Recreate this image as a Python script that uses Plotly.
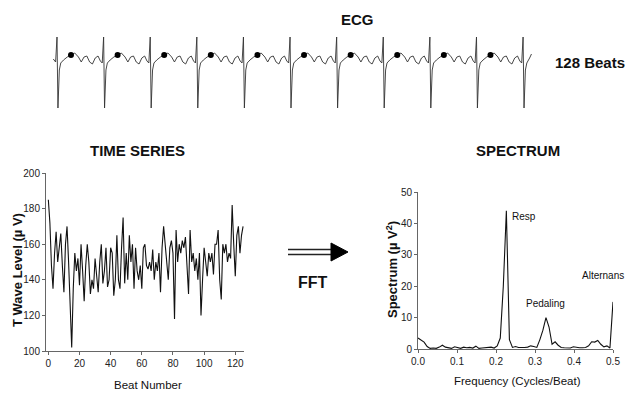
import plotly.graph_objects as go

W, H = 636, 397
OFF = 8  # page body margin: figure is drawn 8 px right/down in the window

# ---------------- data ----------------
t_wave_uv = [185, 172, 148, 135, 155, 167, 150, 160, 166, 148, 133, 160, 170, 150, 125, 102,
             135, 155, 145, 152, 137, 160, 145, 128, 148, 160, 150, 132, 140, 135, 152, 140,
             133, 150, 160, 138, 145, 158, 136, 140, 158, 155, 131, 140, 165, 140, 135, 158,
             175, 138, 155, 140, 165, 150, 160, 135, 158, 145, 140, 148, 135, 158, 160, 148,
             146, 150, 145, 157, 140, 150, 145, 155, 133, 158, 170, 160, 150, 140, 158, 162,
             155, 118, 168, 150, 160, 155, 162, 158, 164, 150, 132, 168, 150, 155, 145, 152,
             140, 155, 120, 140, 158, 150, 142, 155, 150, 155, 143, 160, 160, 168, 140, 129,
             160, 155, 160, 150, 155, 152, 182, 160, 142, 165, 170, 155, 165, 170]
beat_number = list(range(len(t_wave_uv)))

spectrum_uv2 = [3.5, 2.8, 2.2, 0.8, 0.2, 0.3, 0.2, 0.6, 1.2, 0.6, 0.3, 0.2, 0.7, 0.5, 0.2, 0.6,
                0.4, 0.5, 0.3, 0.9, 0.2, 0.3, 0.4, 0.3, 0.6, 0.3, 1.0, 3.5, 20.0, 44.0, 3.0, 0.5,
                0.8, 0.5, 0.4, 0.5, 0.6, 1.0, 0.8, 0.5, 3.0, 6.0, 10.0, 7.0, 1.5, 2.3, 1.2, 0.5,
                0.4, 0.4, 0.3, 0.7, 0.5, 0.4, 0.4, 0.5, 1.0, 2.3, 2.2, 2.7, 1.5, 0.7, 1.0, 0.3, 15.0]
frequency = [k / 128 for k in range(len(spectrum_uv2))]

ts_xticks = [0, 20, 40, 60, 80, 100, 120]
ts_yticks = [100, 120, 140, 160, 180, 200]
sp_xticks = [0.0, 0.1, 0.2, 0.3, 0.4, 0.5]
sp_xticktext = ["0.0", "0.1", "0.2", "0.3", "0.4", "0.5"]
sp_yticks = [0, 10, 20, 30, 40, 50]

# one ECG beat template (time in beats after R peak, amplitude in arbitrary units)
ecg_template_t = [0.00, 0.02, 0.05, 0.08, 0.14, 0.22, 0.30, 0.38, 0.46, 0.52, 0.58, 0.64,
                  0.70, 0.76, 0.82, 0.88, 0.93, 0.97]
ecg_template_v = [23, -48, -10, -3, 0, 3, 5, 7, 3, -2, 3, 4, -2, -4, 2, 4, -1, -3]
ecg_tail_t = [0.00, 0.02, 0.05, 0.08, 0.14, 0.18]
ecg_tail_v = [23, -48, -10, -3, 2, 6]
ecg_lead_t = [-0.08, -0.03]
ecg_lead_v = [1, -2]
ecg_beats = list(range(10))          # beats drawn in the strip (plus final R)
t_marker_offset = 0.30               # T-wave sample point within each beat
t_marker_value = 5

# ---------------- build ECG strip ----------------
ecg_x = list(ecg_lead_t)
ecg_y = list(ecg_lead_v)
for k in ecg_beats:
    ecg_x += [k + t for t in ecg_template_t]
    ecg_y += ecg_template_v
ecg_x += [len(ecg_beats) + t for t in ecg_tail_t]
ecg_y += ecg_tail_v
dot_x = [k + t_marker_offset for k in ecg_beats]
dot_y = [t_marker_value for _ in ecg_beats]

SANS = "Liberation Sans, Arial, sans-serif"

def px(x):
    return (x - OFF) / W

def py(y):
    return 1 - (y - OFF) / H

fig = go.Figure()

fig.add_trace(go.Scatter(x=beat_number, y=t_wave_uv, mode="lines",
                         line=dict(color="#111", width=1.1), xaxis="x", yaxis="y",
                         showlegend=False, hoverinfo="skip"))
fig.add_trace(go.Scatter(x=frequency, y=spectrum_uv2, mode="lines",
                         line=dict(color="#111", width=1.1), xaxis="x2", yaxis="y2",
                         showlegend=False, hoverinfo="skip", cliponaxis=False))
fig.add_trace(go.Scatter(x=ecg_x, y=ecg_y, mode="lines",
                         line=dict(color="#333", width=0.9), xaxis="x3", yaxis="y3",
                         showlegend=False, hoverinfo="skip"))
fig.add_trace(go.Scatter(x=dot_x, y=dot_y, mode="markers",
                         marker=dict(color="#000", size=6), xaxis="x3", yaxis="y3",
                         showlegend=False, hoverinfo="skip"))

axis_common = dict(showgrid=False, zeroline=False, showline=True, linecolor="#666",
                   linewidth=1, ticks="outside", ticklen=3, tickcolor="#666",
                   automargin=False,
                   tickfont=dict(family=SANS, size=10, color="#222"))

fig.update_layout(
    width=W, height=H, margin=dict(l=0, r=0, t=0, b=0, pad=0, autoexpand=False),
    paper_bgcolor="white", plot_bgcolor="white",
    xaxis=dict(domain=[px(46), px(244)], range=[-1.5, 125.6], anchor="y",
               tickvals=ts_xticks, **axis_common),
    yaxis=dict(domain=[py(351), py(173)], range=[100, 200], anchor="x",
               tickvals=ts_yticks, **axis_common),
    xaxis2=dict(domain=[px(418), px(613)], range=[0, 0.5], anchor="y2",
                tickvals=sp_xticks, ticktext=sp_xticktext, **axis_common),
    yaxis2=dict(domain=[py(349), py(192)], range=[0, 50], anchor="x2",
                tickvals=sp_yticks, **axis_common),
    xaxis3=dict(domain=[px(40), px(545)], range=[-0.365, 10.47], anchor="y3",
                visible=False, automargin=False),
    yaxis3=dict(domain=[py(112), py(30)], range=[-52, 30], anchor="x3", visible=False,
                automargin=False),
)

def label(text, x, y, size, bold=True, angle=0, color="#111"):
    fig.add_annotation(text=text, x=px(x), y=py(y), xref="paper", yref="paper",
                       showarrow=False, textangle=angle, xanchor="center", yanchor="middle",
                       font=dict(family=SANS, size=size, color=color,
                                 weight="bold" if bold else "normal"))

label("ECG", 357, 20, 15)
label("128 Beats", 590, 62, 15)
label("TIME SERIES", 137, 150, 15)
label("SPECTRUM", 518, 150, 15)
label("FFT", 313, 282, 16)
label("T Wave Level (\u00b5 V)", 17, 270, 13, angle=-90)
label("Spectrum (\u00b5 V<sup>2</sup>)", 392, 270, 13, angle=-90)
label("Beat Number", 148, 385, 11.5, bold=False)
label("Frequency (Cycles/Beat)", 517, 381, 11.5, bold=False)

# peak labels anchored to data
fig.add_annotation(text="Resp", x=frequency[29], y=spectrum_uv2[29], xref="x2", yref="y2",
                   showarrow=False, xanchor="left", yanchor="middle", xshift=4, yshift=-6,
                   font=dict(family=SANS, size=10, color="#111"))
fig.add_annotation(text="Pedaling", x=frequency[42], y=spectrum_uv2[42], xref="x2", yref="y2",
                   showarrow=False, xanchor="center", yanchor="middle", yshift=14,
                   font=dict(family=SANS, size=10, color="#111"))
fig.add_annotation(text="Alternans", x=frequency[64], y=spectrum_uv2[64], xref="x2", yref="y2",
                   showarrow=False, xanchor="right", yanchor="middle", xshift=13, yshift=26,
                   font=dict(family=SANS, size=10, color="#111"))

# FFT arrow (double shaft + solid head)
for yy in (249.5, 254.5):
    fig.add_shape(type="line", xref="paper", yref="paper", x0=px(288), x1=px(333),
                  y0=py(yy), y1=py(yy), line=dict(color="#222", width=1.3))
fig.add_shape(type="path", xref="paper", yref="paper",
              path=f"M {px(331)} {py(243)} L {px(348)} {py(252)} L {px(331)} {py(261)} Z",
              fillcolor="#000", line=dict(color="#000", width=1))

fig.write_html("out.html")
